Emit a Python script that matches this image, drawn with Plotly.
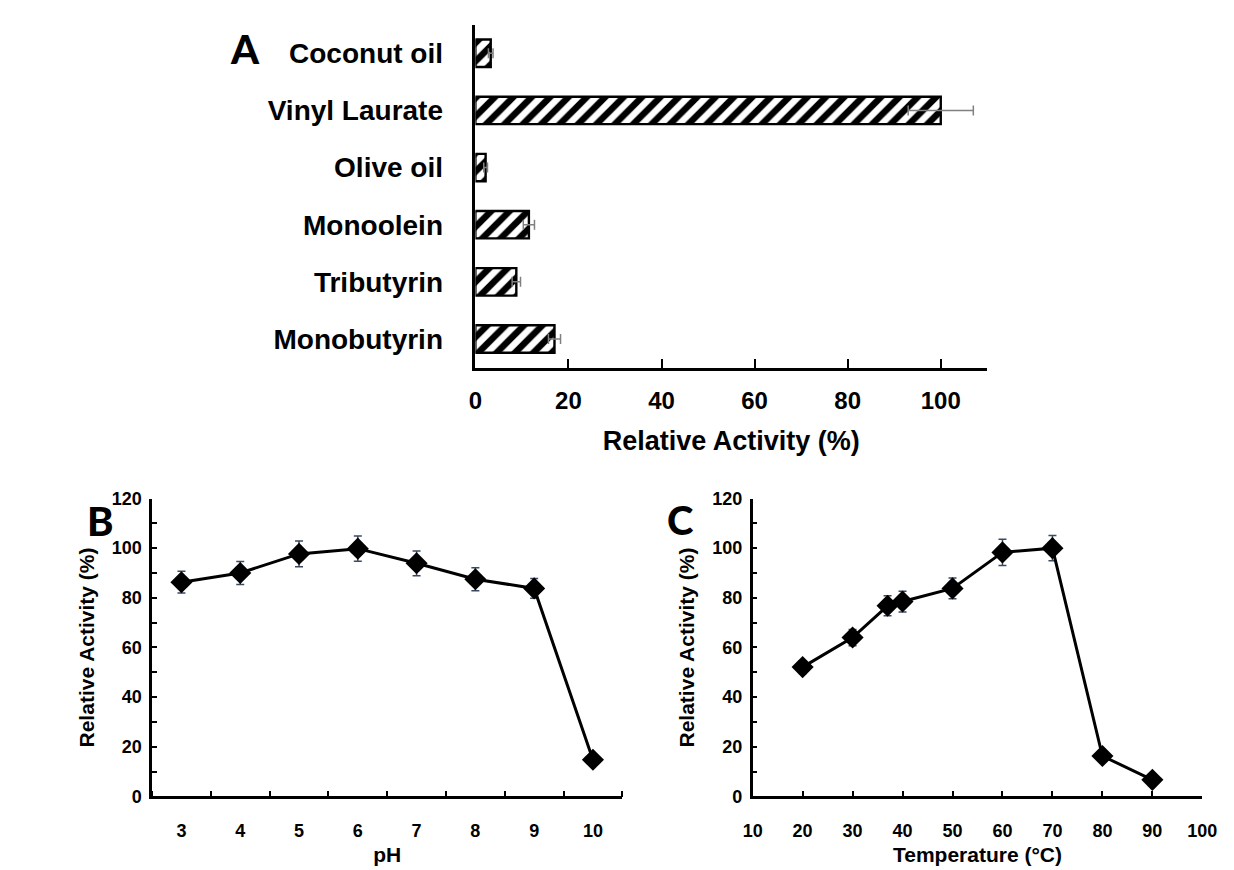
import plotly.graph_objects as go

# Panel A data
substrates = ["Coconut oil", "Vinyl Laurate", "Olive oil", "Monoolein", "Tributyrin", "Monobutyrin"]
activity_a = [3.3, 100.0, 2.2, 11.5, 8.8, 17.0]
error_a = [0.5, 7.0, 0.4, 1.2, 0.9, 1.3]

# Panel B data
ph_values = [3, 4, 5, 6, 7, 8, 9, 10]
activity_b = [86.3, 90.0, 97.7, 99.8, 93.9, 87.5, 83.8, 14.8]
error_b = [4.4, 4.6, 5.2, 5.1, 5.0, 4.6, 4.0, 0.5]

# Panel C data
temperatures = [20, 30, 37, 40, 50, 60, 70, 80, 90]
activity_c = [52.1, 64.0, 76.8, 78.5, 83.8, 98.3, 100.0, 16.3, 6.7]
error_c = [2.6, 3.3, 4.0, 4.2, 4.2, 5.3, 5.1, 0.5, 0.4]

FONT = "Liberation Sans, Arial, sans-serif"
ERR_COL = "#3b4a63"

fig = go.Figure()

fig.add_trace(go.Bar(
    x=activity_a, y=substrates, orientation="h",
    marker=dict(color="white", line=dict(color="black", width=2.4),
                pattern=dict(shape="/", fgcolor="black", bgcolor="white", fgopacity=1,
                             size=13, solidity=0.5)),
    error_x=dict(type="data", array=error_a, color="#808080", thickness=1.5, width=5),
    xaxis="x", yaxis="y", showlegend=False,
))

fig.add_trace(go.Scatter(
    x=ph_values, y=activity_b, mode="lines+markers",
    line=dict(color="black", width=3),
    marker=dict(symbol="diamond", size=17, color="black"),
    error_y=dict(type="data", array=error_b, color=ERR_COL, thickness=1.5, width=4),
    xaxis="x2", yaxis="y2", showlegend=False,
))

fig.add_trace(go.Scatter(
    x=temperatures, y=activity_c, mode="lines+markers",
    line=dict(color="black", width=3),
    marker=dict(symbol="diamond", size=17, color="black"),
    error_y=dict(type="data", array=error_c, color=ERR_COL, thickness=1.5, width=4),
    xaxis="x3", yaxis="y3", showlegend=False,
))

W, H = 1234, 870

def px_x(a, b):
    return [a / W, b / W]

def px_y(top, bottom):
    return [1 - bottom / H, 1 - top / H]

tick_font_small = dict(family=FONT, size=18, color="black", weight="bold")
title_font_small = dict(family=FONT, size=21, color="black", weight="bold")

fig.update_layout(
    width=W, height=H,
    margin=dict(l=0, r=0, t=0, b=0),
    paper_bgcolor="white", plot_bgcolor="white",
    bargap=0.52,
    xaxis=dict(
        domain=px_x(475, 997.5), range=[0, 110], anchor="y",
        tickvals=[0, 20, 40, 60, 80, 100],
        ticks="inside", ticklen=9, tickwidth=2, tickcolor="black",
        showline=True, linecolor="black", linewidth=2.5,
        showgrid=False, zeroline=False,
        tickfont=dict(family=FONT, size=24, color="black", weight="bold"),
        ticklabelstandoff=10,
        title=dict(text="Relative Activity (%)", standoff=18,
                   font=dict(family=FONT, size=27, color="black", weight="bold")),
    ),
    yaxis=dict(
        domain=px_y(15, 366), anchor="x",
        autorange="reversed",
        showline=True, linecolor="black", linewidth=2.5,
        ticks="", showgrid=False, zeroline=False,
        tickfont=dict(family=FONT, size=28, color="black", weight="bold"),
        ticklabelstandoff=24,
    ),
    xaxis2=dict(
        domain=px_x(145, 625), range=[2.5, 10.5], anchor="y2",
        tickvals=ph_values, ticks="",
        minor=dict(tick0=2.5, dtick=1, ticks="inside", ticklen=6, tickwidth=2, tickcolor="black"),
        showline=True, linecolor="black", linewidth=2.5,
        showgrid=False, zeroline=False,
        tickfont=tick_font_small, ticklabelstandoff=16,
        title=dict(text="pH", standoff=8, font=title_font_small),
    ),
    yaxis2=dict(
        domain=px_y(500, 805), range=[0, 120], anchor="x2",
        dtick=20, ticks="inside", ticklen=5, tickwidth=2, tickcolor="black",
        minor=dict(dtick=10, ticks="inside", ticklen=5, tickwidth=2, tickcolor="black"),
        showline=True, linecolor="black", linewidth=2.5,
        showgrid=False, zeroline=False,
        tickfont=tick_font_small, ticklabelstandoff=4,
        title=dict(text="Relative Activity (%)", standoff=12, font=title_font_small),
    ),
    xaxis3=dict(
        domain=px_x(758, 1217), range=[10, 100], anchor="y3",
        dtick=10, ticks="inside", ticklen=6, tickwidth=2, tickcolor="black",
        showline=True, linecolor="black", linewidth=2.5,
        showgrid=False, zeroline=False,
        tickfont=tick_font_small, ticklabelstandoff=16,
        title=dict(text="Temperature (°C)", standoff=8, font=title_font_small),
    ),
    yaxis3=dict(
        domain=px_y(500, 805), range=[0, 120], anchor="x3",
        dtick=20, ticks="inside", ticklen=5, tickwidth=2, tickcolor="black",
        minor=dict(dtick=10, ticks="inside", ticklen=5, tickwidth=2, tickcolor="black"),
        showline=True, linecolor="black", linewidth=2.5,
        showgrid=False, zeroline=False,
        tickfont=tick_font_small, ticklabelstandoff=4,
        title=dict(text="Relative Activity (%)", standoff=12, font=title_font_small),
    ),
)

letter_font = dict(family="Lato, Open Sans, sans-serif", size=40, color="black", weight=900)
for label, x, y in [("A", 240, 40), ("B", 92, 523), ("C", 684, 522)]:
    fig.add_annotation(text=label, x=x / W, y=1 - y / H, xref="paper", yref="paper",
                       showarrow=False, xanchor="center", yanchor="middle", font=letter_font)

fig.write_html("out.html")
